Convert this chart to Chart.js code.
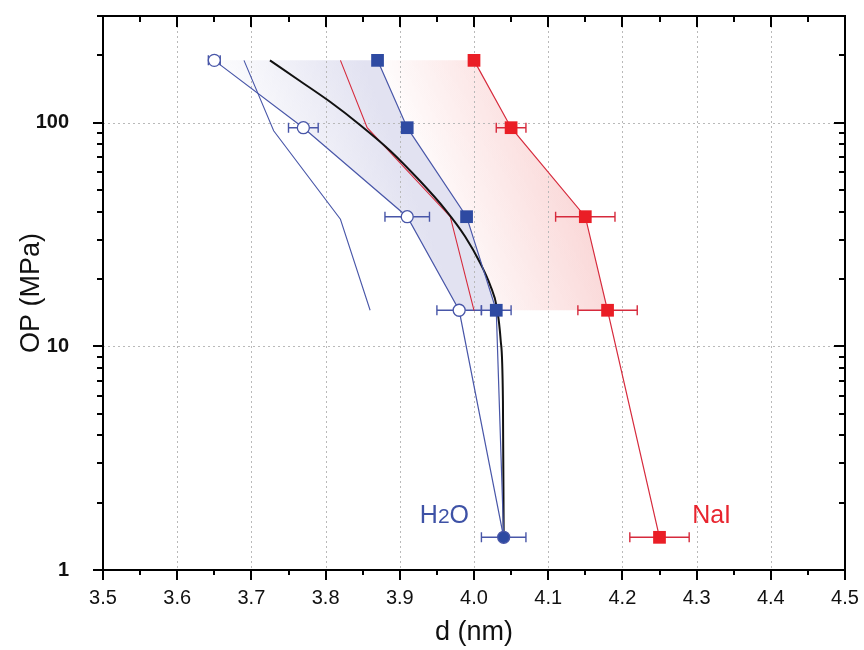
<!DOCTYPE html>
<html>
<head>
<meta charset="utf-8">
<script src="https://cdn.jsdelivr.net/npm/chart.js@4.4.1/dist/chart.umd.min.js"></script>
<style>
  html, body { margin: 0; padding: 0; background: #ffffff; }
  #c { display: block; }
</style>
</head>
<body>
<canvas id="c" width="864" height="650"></canvas>
<script>
// ---- data ----
const dWaterOpen   = [3.65, 3.77, 3.91, 3.98, 4.04];
const opWaterOpen  = [190, 95, 38, 14.5, 1.4];
const errWaterOpen = [0.008, 0.02, 0.03, 0.03, 0.03];

const dWaterSq   = [3.87, 3.91, 3.99, 4.03, 4.04];
const opWaterSq  = [190, 95, 38, 14.5, 1.4];
const errWaterSq = [0, 0, 0, 0.02, 0];

const dNaI   = [4.00, 4.05, 4.15, 4.18, 4.25];
const opNaI  = [190, 95, 38, 14.5, 1.4];
const errNaI = [0, 0.02, 0.04, 0.04, 0.04];

const dBlueThin  = [3.69, 3.73, 3.82, 3.86];
const opBlueThin = [190, 92, 37, 14.5];

const dRedThin  = [3.82, 3.856, 3.968, 4.0];
const opRedThin = [190, 95, 38, 14.5];

const dModel  = [3.725, 3.765, 3.806, 3.846, 3.887, 3.927, 3.961, 3.988, 4.008, 4.022, 4.031, 4.036, 4.039, 4.04];
const opModel = [190, 154, 124, 98, 75, 55, 41, 31, 23.7, 18.7, 14.8, 10.6, 5.7, 1.4];

const xTickLabels = ['3.5','3.6','3.7','3.8','3.9','4.0','4.1','4.2','4.3','4.4','4.5'];
const yTickLabels = ['1','10','100'];

const seriesLabels = ['H2O', 'NaI'];

// ---- colours ----
const BLUE = 'rgb(46,74,162)';
const BLUE_LINE = 'rgb(72,86,168)';
const RED = 'rgb(234,30,38)';
const RED_LINE = 'rgb(214,42,60)';

const pts = (xs, ys) => xs.map((x, i) => ({x: x, y: ys[i]}));

const FONT = "'Liberation Sans', Arial, sans-serif";

const decorPlugin = {
  id: 'decor',
  beforeDatasetsDraw(chart) {
    const {ctx, chartArea: a, scales: {x, y}} = chart;
    ctx.save();
    ctx.beginPath();
    ctx.rect(a.left, a.top, a.right - a.left, a.bottom - a.top);
    ctx.clip();

    // lavender band between the two water curves
    const lav = pts(dWaterOpen.slice(0, 4), opWaterOpen.slice(0, 4))
      .concat(pts(dWaterSq.slice(0, 4), opWaterSq.slice(0, 4)).reverse());
    let g = ctx.createLinearGradient(x.getPixelForValue(3.71), y.getPixelForValue(40),
                                     x.getPixelForValue(3.9), y.getPixelForValue(70));
    g.addColorStop(0, 'rgba(226,226,241,0)');
    g.addColorStop(1, 'rgba(226,226,241,1)');
    ctx.fillStyle = g;
    ctx.beginPath();
    lav.forEach((p, i) => {
      const px = x.getPixelForValue(p.x), py = y.getPixelForValue(p.y);
      i ? ctx.lineTo(px, py) : ctx.moveTo(px, py);
    });
    ctx.closePath();
    ctx.fill();

    // pink band between water squares and NaI
    const pink = pts(dWaterSq.slice(0, 4), opWaterSq.slice(0, 4))
      .concat(pts(dNaI.slice(0, 4), opNaI.slice(0, 4)).reverse());
    g = ctx.createLinearGradient(x.getPixelForValue(3.97), y.getPixelForValue(25),
                                 x.getPixelForValue(4.15), y.getPixelForValue(40));
    g.addColorStop(0, 'rgba(250,216,216,0.1)');
    g.addColorStop(1, 'rgba(250,216,216,1)');
    ctx.fillStyle = g;
    ctx.beginPath();
    pink.forEach((p, i) => {
      const px = x.getPixelForValue(p.x), py = y.getPixelForValue(p.y);
      i ? ctx.lineTo(px, py) : ctx.moveTo(px, py);
    });
    ctx.closePath();
    ctx.fill();

    // dotted grid
    ctx.strokeStyle = 'rgb(185,185,185)';
    ctx.lineWidth = 1;
    ctx.setLineDash([2, 3]);
    xTickLabels.forEach(t => {
      const px = Math.round(x.getPixelForValue(parseFloat(t))) + 0.5;
      ctx.beginPath(); ctx.moveTo(px, a.top); ctx.lineTo(px, a.bottom); ctx.stroke();
    });
    yTickLabels.forEach(t => {
      const py = Math.round(y.getPixelForValue(parseFloat(t))) + 0.5;
      ctx.beginPath(); ctx.moveTo(a.left, py); ctx.lineTo(a.right, py); ctx.stroke();
    });
    ctx.setLineDash([]);
    ctx.restore();

    // error bars
    const bars = [
      [dWaterOpen, opWaterOpen, errWaterOpen, BLUE_LINE],
      [dWaterSq, opWaterSq, errWaterSq, BLUE_LINE],
      [dNaI, opNaI, errNaI, RED_LINE]
    ];
    ctx.save();
    ctx.lineWidth = 1.4;
    bars.forEach(([xs, ys, es, col]) => {
      ctx.strokeStyle = col;
      xs.forEach((v, i) => {
        if (!es[i]) return;
        const x0 = x.getPixelForValue(v - es[i]);
        const x1 = x.getPixelForValue(v + es[i]);
        const py = y.getPixelForValue(ys[i]);
        ctx.beginPath();
        ctx.moveTo(x0, py); ctx.lineTo(x1, py);
        ctx.moveTo(x0, py - 5); ctx.lineTo(x0, py + 5);
        ctx.moveTo(x1, py - 5); ctx.lineTo(x1, py + 5);
        ctx.stroke();
      });
    });
    ctx.restore();
  },
  afterDraw(chart) {
    const {ctx, chartArea: a, scales: {x, y}} = chart;
    ctx.save();
    ctx.strokeStyle = '#000';
    ctx.lineWidth = 2;
    // x ticks (major/minor) bottom outward, top inward
    for (let k = 0; k <= 20; k++) {
      const v = 3.5 + k * 0.05;
      const px = Math.round(x.getPixelForValue(v));
      const major = k % 2 === 0;
      ctx.beginPath();
      ctx.moveTo(px, a.bottom); ctx.lineTo(px, a.bottom + (major ? 10 : 5));
      ctx.moveTo(px, a.top); ctx.lineTo(px, a.top + (major ? 11 : 6));
      ctx.stroke();
    }
    // y ticks (log) left outward, right inward
    for (let e = 0; e <= 2; e++) {
      for (let m = 1; m <= 9; m++) {
        const v = m * Math.pow(10, e);
        if (v > 300) break;
        const py = Math.round(y.getPixelForValue(v));
        const major = m === 1;
        ctx.beginPath();
        ctx.moveTo(a.left, py); ctx.lineTo(a.left - (major ? 10 : 6), py);
        ctx.moveTo(a.right, py); ctx.lineTo(a.right - (major ? 11 : 6), py);
        ctx.stroke();
      }
    }
    // frame
    ctx.strokeRect(a.left, a.top, a.right - a.left, a.bottom - a.top);

    // series labels
    ctx.textBaseline = 'alphabetic';
    ctx.textAlign = 'left';
    const by = y.getPixelForValue(1.62);
    let lx = x.getPixelForValue(3.927);
    ctx.fillStyle = 'rgb(62,82,166)';
    ctx.font = '25px ' + FONT;
    ctx.fillText('H', lx, by); lx += ctx.measureText('H').width;
    ctx.font = '21px ' + FONT;
    ctx.fillText('2', lx, by); lx += ctx.measureText('2').width;
    ctx.font = '25px ' + FONT;
    ctx.fillText('O', lx, by);
    ctx.fillStyle = 'rgb(232,36,46)';
    ctx.fillText(seriesLabels[1], x.getPixelForValue(4.294), by);
    ctx.restore();
  }
};

new Chart(document.getElementById('c'), {
  type: 'scatter',
  data: {
    datasets: [
      {
        label: 'NaI',
        data: pts(dNaI, opNaI),
        showLine: true,
        borderColor: RED_LINE,
        borderWidth: 1.2,
        pointStyle: 'rect',
        pointRadius: 9,
        pointBackgroundColor: RED,
        pointBorderColor: RED,
        pointBorderWidth: 0
      },
      {
        label: 'H2O (open)',
        data: pts(dWaterOpen, opWaterOpen),
        showLine: true,
        borderColor: BLUE_LINE,
        borderWidth: 1.2,
        pointStyle: 'circle',
        pointRadius: 6,
        pointBackgroundColor: ['#ffffff', '#ffffff', '#ffffff', '#ffffff', BLUE],
        pointBorderColor: BLUE_LINE,
        pointBorderWidth: 1.3
      },
      {
        label: 'H2O (squares)',
        data: pts(dWaterSq, opWaterSq),
        showLine: true,
        borderColor: BLUE_LINE,
        borderWidth: 1.2,
        pointStyle: 'rect',
        pointRadius: [9, 9, 9, 9, 0],
        pointBackgroundColor: BLUE,
        pointBorderColor: BLUE,
        pointBorderWidth: 0
      },
      {
        label: 'model',
        data: pts(dModel, opModel),
        showLine: true,
        borderColor: '#111111',
        borderWidth: 2,
        cubicInterpolationMode: 'monotone',
        pointRadius: 0
      },
      {
        label: 'NaI thin',
        data: pts(dRedThin, opRedThin),
        showLine: true,
        borderColor: RED_LINE,
        borderWidth: 1.1,
        pointRadius: 0
      },
      {
        label: 'H2O thin',
        data: pts(dBlueThin, opBlueThin),
        showLine: true,
        borderColor: BLUE_LINE,
        borderWidth: 1.1,
        pointRadius: 0
      }
    ]
  },
  options: {
    responsive: false,
    animation: false,
    layout: { padding: { left: 0, right: 19, top: 16, bottom: 0 } },
    plugins: { legend: { display: false }, tooltip: { enabled: false } },
    scales: {
      x: {
        type: 'linear',
        min: 3.5, max: 4.5,
        grid: { display: false },
        border: { display: false },
        ticks: {
          stepSize: 0.1,
          autoSkip: false,
          maxRotation: 0,
          padding: 8,
          color: '#111111',
          font: { family: FONT, size: 20 },
          callback: (v) => {
            const s = Number(v).toFixed(1);
            return xTickLabels.includes(s) ? s : '';
          }
        },
        title: {
          display: true,
          text: 'd (nm)',
          color: '#111111',
          font: { family: FONT, size: 27 },
          padding: { top: 0, bottom: 1 }
        },
        afterFit(s) { s.height = 80; s.paddingLeft = 0; s.paddingRight = 0; }
      },
      y: {
        type: 'logarithmic',
        min: 1, max: 300,
        grid: { display: false },
        border: { display: false },
        ticks: {
          autoSkip: false,
          padding: 26,
          color: '#111111',
          font: { family: FONT, size: 20, weight: 'bold' },
          callback: (v) => {
            const s = String(Number(v));
            return yTickLabels.includes(s) ? s : '';
          }
        },
        title: {
          display: true,
          text: 'OP (MPa)',
          color: '#111111',
          font: { family: FONT, size: 27 },
          padding: { top: 15, bottom: 0 }
        },
        afterFit(s) { s.width = 103; s.paddingTop = 0; s.paddingBottom = 0; }
      }
    }
  },
  plugins: [decorPlugin]
});
</script>
</body>
</html>
